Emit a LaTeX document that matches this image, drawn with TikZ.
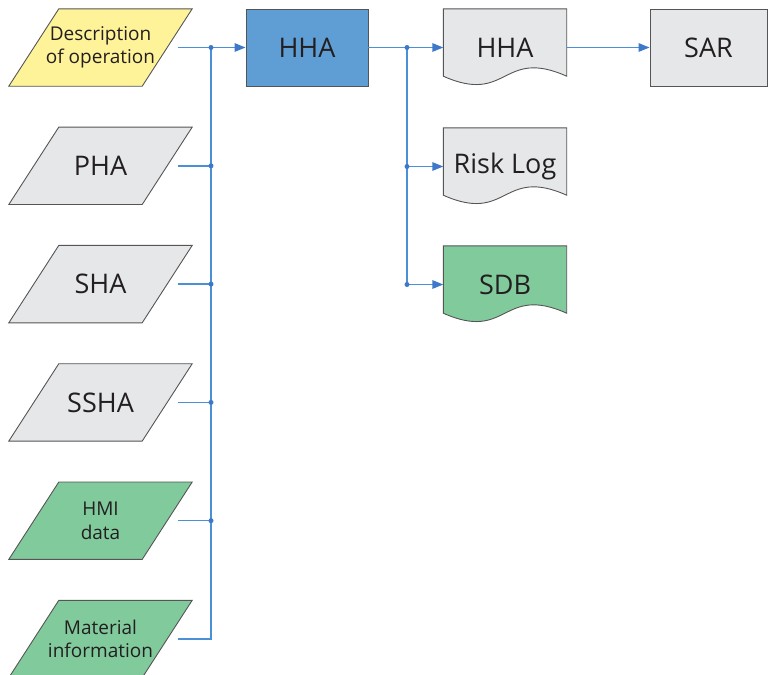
\documentclass[tikz,border=0pt]{standalone}
\usepackage{fontspec}
\setmainfont{Open Sans}
\usetikzlibrary{arrows.meta,backgrounds}

\definecolor{txt}{RGB}{35,31,32}
\definecolor{edge}{RGB}{85,85,85}
\definecolor{inyellow}{RGB}{255,243,153}
\definecolor{ingray}{RGB}{230,231,232}
\definecolor{ingreen}{RGB}{128,202,156}
\definecolor{procblue}{RGB}{95,158,213}
\definecolor{wireblue}{RGB}{74,144,217}
\definecolor{tipblue}{RGB}{62,120,200}

% slanted input box around an invisible node
\newcommand\slantbox[2]{%
  \filldraw[fill=#2, draw=edge, line width=0.9pt]
    ([xshift=36pt]#1.north west) -- ([xshift=14pt]#1.north east)
    -- ([xshift=-36pt]#1.south east) -- ([xshift=-14pt]#1.south west) -- cycle;}
% document outline with wavy lower edge around an invisible node
\newcommand\docshape[2]{%
  \filldraw[fill=#2, draw=edge, line width=0.9pt]
    (#1.north west) -- (#1.north east) -- ([yshift=10pt]#1.south east)
    .. controls +(-65,-29) and +(65,29) .. ([yshift=10pt]#1.south west) -- cycle;}

\begin{document}
\begin{tikzpicture}[x=1pt,y=-1pt,
  base/.style={inner sep=0pt, text=txt, align=center},
  big/.style={font=\fontsize{27}{31}\selectfont},
  small/.style={font=\fontsize{19}{23.5}\selectfont},
  inbox/.style={base, minimum width=155pt, minimum height=77pt},
  procbox/.style={base, big, draw=edge, line width=0.9pt, minimum height=77pt},
  docnode/.style={base, big, minimum width=123pt, minimum height=77pt},
  wire/.style={draw=wireblue, line width=1.5pt},
  arr/.style={wire, -{Triangle[length=11pt,width=8.5pt,fill=tipblue,color=tipblue]}},
  jdot/.style={fill=tipblue}
]
\useasboundingbox (0,0) rectangle (769,675);

% inputs
\node[inbox, small] (desc) at (100.5,47.5) {Description\\of operation};
\node[inbox, big]   (pha)  at (100.5,165.8) {PHA};
\node[inbox, big]   (sha)  at (100.5,284.1) {SHA};
\node[inbox, big]   (ssha) at (100.5,402.4) {SSHA};
\node[inbox, small] (hmi)  at (100.5,520.7) {HMI\\data};
\node[inbox, small] (mat)  at (100.5,639) {Material\\information};

% process and outputs
\node[procbox, fill=procblue, minimum width=122pt] (hha) at (307,47.5) {HHA};
\node[docnode] (hhadoc) at (505,47.5) {HHA};
\node[docnode] (risk)   at (505,166.5) {Risk Log};
\node[docnode] (sdb)    at (505,284.5) {SDB};
\node[procbox, fill=ingray, minimum width=117pt] (sar) at (708.5,47.5) {SAR};

\begin{pgfonlayer}{background}
  \slantbox{desc}{inyellow}
  \slantbox{pha}{ingray}
  \slantbox{sha}{ingray}
  \slantbox{ssha}{ingray}
  \slantbox{hmi}{ingreen}
  \slantbox{mat}{ingreen}
  \docshape{hhadoc}{ingray}
  \docshape{risk}{ingray}
  \docshape{sdb}{ingreen}
\end{pgfonlayer}

% collecting bus on the left
\coordinate (busL) at (211,47.5);
\draw[arr] (desc.east) -- (hha.west);
\draw[wire] (busL) |- (mat.east);
\foreach \n in {pha,sha,ssha,hmi}{
  \draw[wire] (\n.east) -- (\n.east -| busL);
  \fill[jdot] (\n.east -| busL) circle (2.5);
}
\fill[jdot] (busL) circle (2.5);

% distributing bus on the right
\coordinate (busR) at (407,47.5);
\draw[arr] (hha.east) -- (hhadoc.west);
\draw[arr] (busR) |- (sdb.west);
\draw[arr] (risk.west -| busR) -- (risk.west);
\fill[jdot] (busR) circle (2.5);
\fill[jdot] (risk.west -| busR) circle (2.5);
\fill[jdot] (sdb.west -| busR) circle (2.5);

\draw[arr] (hhadoc.east) -- (sar.west);
\end{tikzpicture}
\end{document}
